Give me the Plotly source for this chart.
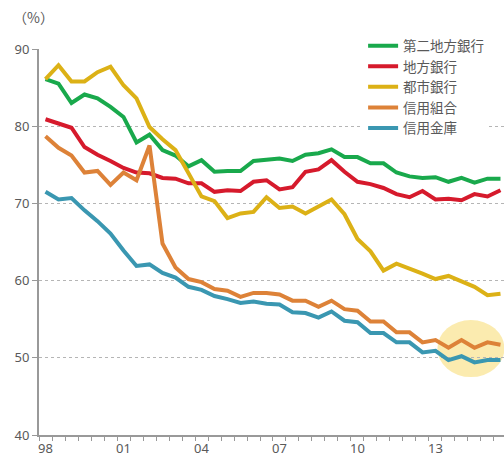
import plotly.graph_objects as go

# Half-year periods, 1998 H1 .. 2015 H2
periods = [f"{y % 100:02d}-{h}" for y in range(1998, 2016) for h in (1, 2)]
tick_labels = ["98", "01", "04", "07", "10", "13"]

second_regional = [86.1, 85.5, 83.0, 84.1, 83.6, 82.5, 81.2, 77.9, 78.9, 76.9,
                   76.2, 74.8, 75.6, 74.1, 74.2, 74.2, 75.5, 75.6, 75.8, 75.5,
                   76.3, 76.5, 77.0, 76.0, 76.0, 75.2, 75.2, 74.0, 73.5, 73.3,
                   73.4, 72.8, 73.3, 72.7, 73.2, 73.2]
regional = [80.9, 80.3, 79.8, 77.3, 76.3, 75.5, 74.6, 74.0, 73.9, 73.3,
            73.2, 72.6, 72.6, 71.5, 71.7, 71.6, 72.8, 73.0, 71.8, 72.1,
            74.1, 74.4, 75.6, 74.1, 72.8, 72.5, 72.0, 71.2, 70.8, 71.6,
            70.5, 70.6, 70.4, 71.2, 70.9, 71.7]
city = [86.1, 87.9, 85.8, 85.8, 87.0, 87.7, 85.3, 83.6, 79.9, 78.3,
        76.9, 73.9, 70.9, 70.3, 68.1, 68.7, 68.9, 70.8, 69.4, 69.6,
        68.7, 69.6, 70.5, 68.6, 65.4, 63.8, 61.3, 62.2, 61.6, 60.9,
        60.2, 60.6, 59.9, 59.2, 58.1, 58.3]
credit_coop = [78.7, 77.2, 76.2, 74.0, 74.2, 72.4, 74.0, 73.0, 77.5, 64.8,
               61.7, 60.2, 59.8, 58.9, 58.7, 57.9, 58.4, 58.4, 58.2, 57.4,
               57.4, 56.6, 57.4, 56.3, 56.1, 54.7, 54.7, 53.3, 53.3, 52.0,
               52.3, 51.3, 52.3, 51.3, 52.0, 51.7]
shinkin = [71.5, 70.5, 70.7, 69.1, 67.7, 66.1, 63.9, 61.9, 62.1, 61.0,
           60.4, 59.2, 58.8, 58.0, 57.6, 57.1, 57.3, 57.0, 56.9, 55.9,
           55.8, 55.2, 56.0, 54.8, 54.6, 53.2, 53.2, 52.0, 52.0, 50.7,
           50.9, 49.7, 50.2, 49.4, 49.7, 49.7]

series = [
    ("第二地方銀行", second_regional, "#19a94c"),
    ("地方銀行", regional, "#d61a2c"),
    ("都市銀行", city, "#dcb116"),
    ("信用組合", credit_coop, "#dd8238"),
    ("信用金庫", shinkin, "#3a97b1"),
]

TXT = "#595959"
AX = "#999999"

fig = go.Figure()
for name, vals, color in series:
    fig.add_trace(go.Scatter(
        x=periods, y=vals, name=name, mode="lines",
        line=dict(color=color, width=4),
    ))

ticktext = []
for i, p in enumerate(periods):
    ticktext.append(tick_labels[i // 6] if i % 6 == 0 else "")

fig.update_layout(
    width=504, height=460,
    margin=dict(l=39, r=0, t=49, b=25),
    paper_bgcolor="white", plot_bgcolor="white",
    font=dict(family="Noto Sans, Noto Sans CJK JP", color=TXT, size=13),
    showlegend=True,
    legend=dict(
        x=0.697, y=1.048, xanchor="left", yanchor="top",
        bgcolor="white", borderwidth=0,
        font=dict(family="Noto Sans CJK JP", size=13.5, color=TXT),
        tracegroupgap=0, itemwidth=30,
    ),
    xaxis=dict(
        type="category", categoryorder="array", categoryarray=periods,
        range=[-0.5, 35.27],
        tickmode="array", tickvals=periods, ticktext=ticktext,
        tickangle=0,
        tickson="boundaries", ticks="outside", ticklen=4,
        tickcolor=AX, tickwidth=1,
        showline=True, linecolor=AX, linewidth=2,
        showgrid=False, zeroline=False,
        tickfont=dict(size=13, color=TXT),
    ),
    yaxis=dict(
        range=[40, 90], dtick=10, tick0=40,
        ticks="outside", ticklen=5, tickcolor=AX, tickwidth=1,
        showline=True, linecolor=AX, linewidth=2,
        showgrid=True, gridcolor="#b5b5b5", gridwidth=1, griddash="dot",
        zeroline=False,
        tickfont=dict(size=13, color=TXT),
    ),
    annotations=[dict(
        text="（%）", xref="paper", yref="paper", x=-0.06, y=1.0,
        yshift=32, xanchor="left", yanchor="middle", showarrow=False,
        font=dict(size=14, color=TXT, family="Noto Sans CJK JP"),
    )],
    shapes=[dict(
        type="circle", xref="x", yref="y",
        x0=30.15, x1=35.3, y0=47.5, y1=54.9,
        fillcolor="rgba(248,218,110,0.55)", line=dict(width=0),
        layer="below",
    )],
)

fig.write_html("out.html")
